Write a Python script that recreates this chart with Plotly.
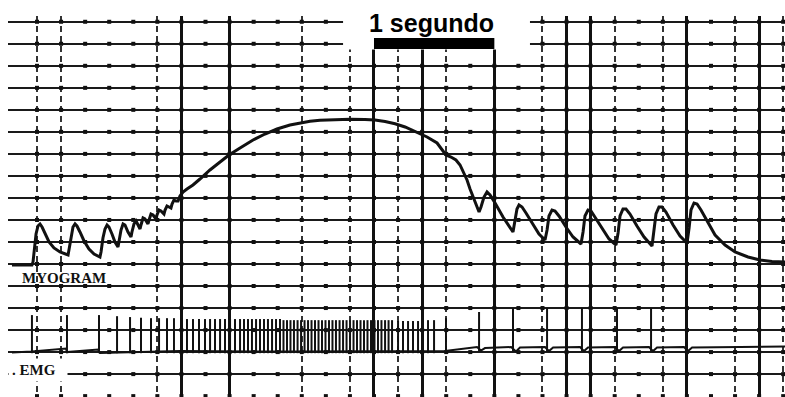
import plotly.graph_objects as go

# ---------------- data (time in seconds, amplitude in chart divisions) ----------------
# Myogram (muscle force) trace
MYO_T = [-0.208, -0.042, -0.033, -0.025, -0.008, 0.008, 0.025, 0.042, 0.066, 0.100, 0.141, 0.191, 0.258,
         0.266, 0.283, 0.299, 0.316, 0.332, 0.357, 0.391, 0.432, 0.474, 0.523,
         0.532, 0.548, 0.565, 0.582, 0.598, 0.623, 0.648, 0.673,
         0.681, 0.698, 0.715, 0.731, 0.756, 0.781,
         0.789, 0.806, 0.823, 0.839, 0.856,
         0.864, 0.881, 0.897, 0.922,
         0.931, 0.947, 0.964, 0.989,
         0.997, 1.014, 1.030, 1.055,
         1.064, 1.080, 1.097, 1.113,
         1.122, 1.138, 1.155, 1.172,
         1.188, 1.213, 1.246, 1.296, 1.354, 1.437, 1.521, 1.595, 1.687, 1.795, 1.894, 1.994, 2.102,
         2.185, 2.268, 2.351, 2.476, 2.601, 2.725, 2.808, 2.892, 2.975, 3.058, 3.157, 3.241, 3.324,
         3.365, 3.398, 3.440, 3.481, 3.515, 3.548, 3.573, 3.598, 3.623, 3.648, 3.673,
         3.689, 3.714, 3.739, 3.764, 3.806, 3.872, 3.955,
         3.972, 3.988, 4.005, 4.030, 4.063, 4.121, 4.171, 4.221,
         4.238, 4.254, 4.279, 4.304, 4.337, 4.395, 4.454, 4.520,
         4.537, 4.553, 4.578, 4.603, 4.636, 4.695, 4.753, 4.811,
         4.828, 4.844, 4.869, 4.894, 4.927, 4.985, 5.044, 5.110,
         5.127, 5.143, 5.168, 5.193, 5.226, 5.285, 5.343, 5.401,
         5.418, 5.434, 5.459, 5.484, 5.517, 5.575, 5.634, 5.717, 5.800, 5.908, 6.007, 6.107, 6.215]
MYO_V = [-0.045, -0.045, 0.091, 0.636, 1.362, 1.726, 1.817, 1.680, 1.362, 0.999, 0.727, 0.545, 0.409,
         0.636, 1.272, 1.680, 1.817, 1.726, 1.453, 1.045, 0.681, 0.454, 0.318,
         0.545, 1.181, 1.589, 1.771, 1.680, 1.362, 0.999, 0.772,
         0.999, 1.544, 1.817, 1.771, 1.453, 1.226,
         1.453, 1.817, 1.953, 1.771, 1.589,
         1.771, 2.089, 2.044, 1.817,
         1.998, 2.271, 2.225, 2.044,
         2.225, 2.452, 2.407, 2.271,
         2.452, 2.634, 2.589, 2.543,
         2.725, 2.906, 2.861, 2.861,
         3.088, 3.270, 3.406, 3.588, 3.860, 4.269, 4.632, 4.950, 5.268, 5.631, 5.904, 6.131, 6.312,
         6.403, 6.480, 6.530, 6.567, 6.576, 6.562, 6.540, 6.471, 6.367, 6.222, 5.995, 5.767, 5.495,
         5.222, 4.950, 4.859, 4.723, 4.496, 4.133, 3.815, 3.406, 3.043, 2.679, 2.361,
         2.589, 3.043, 3.270, 3.133, 2.770, 2.134, 1.453,
         1.998, 2.498, 2.679, 2.589, 2.316, 1.771, 1.362, 1.090,
         1.544, 2.180, 2.452, 2.407, 2.180, 1.680, 1.226, 0.908,
         1.453, 2.180, 2.452, 2.407, 2.134, 1.589, 1.135, 0.863,
         1.408, 2.180, 2.498, 2.498, 2.271, 1.726, 1.226, 0.817,
         1.453, 2.271, 2.589, 2.589, 2.361, 1.771, 1.272, 0.954,
         1.635, 2.452, 2.770, 2.725, 2.452, 1.907, 1.317, 0.863, 0.545, 0.318, 0.182, 0.114, 0.091]

# EMG channel: baseline drift (with brief undershoot after each late potential)
EMG_BASE_T = [-0.208, -0.042, 0.241, 0.249, 0.507, 0.523, 1.188, 2.185, 3.390, 3.423, 3.656,
              3.689, 3.722, 3.939,
              3.980, 4.013, 4.221,
              4.254, 4.288, 4.512,
              4.545, 4.578, 4.803,
              4.836, 4.869, 5.085,
              5.118, 5.152, 5.376,
              5.409, 5.443, 6.215]
EMG_BASE_V = [-0.023, 0.023, 0.159, 0.000, 0.114, -0.045, 0.045, 0.023, 0.045, 0.068, 0.227,
              0.068, 0.182, 0.227,
              0.023, 0.204, 0.227,
              0.045, 0.204, 0.227,
              0.045, 0.204, 0.227,
              0.045, 0.204, 0.227,
              0.045, 0.204, 0.227,
              0.045, 0.204, 0.250]

# EMG action potentials during the stimulation burst
BURST_SPIKE_T = [-0.042, 0.249, 0.515, 0.665, 0.773, 0.864, 0.947, 1.014, 1.080, 1.138, 1.197,
                 1.246, 1.296, 1.346, 1.396, 1.438, 1.479, 1.521, 1.562, 1.604, 1.645, 1.687,
                 1.720, 1.753, 1.786, 1.820, 1.853, 1.886, 1.919, 1.953, 1.986, 2.019,
                 2.048, 2.077, 2.106, 2.135, 2.165, 2.194, 2.223, 2.252, 2.281, 2.310, 2.339,
                 2.368, 2.397, 2.426, 2.455, 2.484, 2.514, 2.543, 2.572, 2.601, 2.630, 2.659,
                 2.688, 2.717, 2.746, 2.775, 2.804, 2.833, 2.862, 2.892, 2.921, 2.950,
                 3.000, 3.041, 3.083, 3.124, 3.166, 3.207, 3.249, 3.299, 3.398]
BURST_SPIKE_A = [1.68, 1.68, 1.68, 1.63, 1.59, 1.56, 1.54, 1.54, 1.54, 1.54, 1.54,
                 1.50, 1.50, 1.50, 1.50, 1.50, 1.50, 1.50, 1.50, 1.50, 1.50, 1.50,
                 1.50, 1.50, 1.50, 1.50, 1.50, 1.50, 1.50, 1.50, 1.50, 1.50,
                 1.45, 1.45, 1.45, 1.45, 1.45, 1.45, 1.45, 1.45, 1.45, 1.45, 1.45,
                 1.45, 1.45, 1.45, 1.45, 1.45, 1.45, 1.45, 1.45, 1.45, 1.45, 1.45,
                 1.45, 1.45, 1.45, 1.45, 1.45, 1.45, 1.45, 1.45, 1.45, 1.45,
                 1.41, 1.41, 1.41, 1.41, 1.41, 1.41, 1.45, 1.45, 1.54]
BURST_FLOOR = -0.05
# EMG action potentials after the burst
LATE_SPIKE_T = [3.673, 3.955, 4.238, 4.528, 4.819, 5.102, 5.393]
LATE_SPIKE_A = [1.82, 2.00, 2.00, 2.00, 2.00, 2.00, 2.00]
LATE_FLOOR = 0.03

EMG_OFFSET_DIV = 4          # EMG channel sits 4 divisions below myogram baseline

# chart paper grid (0.2 s per vertical division)
GRID_STEP_T = 0.2
N_VLINES = 32
GRID_HEAVY_T = [1.2, 1.6, 2.8, 3.2, 3.8, 4.4, 4.6, 5.4, 6.0]
GRID_DOTTED_T = [0.0, 0.2, 1.0, 2.2, 2.6, 3.0, 3.4, 4.2, 4.8, 5.2, 5.8, 6.2]
H_LINES = list(range(-6, 12))

SCALE_BAR_START = 2.8
SCALE_BAR_LEN = 1.0
SCALE_LABEL = "1 segundo"
LABEL_MYO = "MYOGRAM"
LABEL_EMG = ". EMG"

X_RANGE = [-0.241, 6.215]
Y_RANGE = [-6.04, 11.262]

INK = "#111111"
LABEL_FONT = "Liberation Serif, Times New Roman, serif"

fig = go.Figure()

# grid intersection marks
gx, gy = [], []
for j in H_LINES:
    for k in range(N_VLINES):
        gx.append(round(GRID_STEP_T * k, 3))
        gy.append(j)
fig.add_trace(go.Scatter(x=gx, y=gy, mode="markers",
                         marker=dict(symbol="square", size=4, color=INK),
                         hoverinfo="skip", showlegend=False))

# EMG baseline
fig.add_trace(go.Scatter(x=EMG_BASE_T, y=EMG_BASE_V, mode="lines", yaxis="y2",
                         line=dict(color=INK, width=2), showlegend=False))
# EMG spikes
bx, by = [], []
for t, a in zip(BURST_SPIKE_T, BURST_SPIKE_A):
    bx += [t, t, None]
    by += [BURST_FLOOR, a, None]
fig.add_trace(go.Scatter(x=bx, y=by, mode="lines", yaxis="y2",
                         line=dict(color=INK, width=2), showlegend=False))
lx, ly = [], []
for t, a in zip(LATE_SPIKE_T, LATE_SPIKE_A):
    lx += [t, t, None]
    ly += [LATE_FLOOR, a, None]
fig.add_trace(go.Scatter(x=lx, y=ly, mode="lines", yaxis="y2",
                         line=dict(color=INK, width=2), showlegend=False))

# Myogram
fig.add_trace(go.Scatter(x=MYO_T, y=MYO_V, mode="lines",
                         line=dict(color=INK, width=3), showlegend=False))

# white patch behind scale label and the 1 s scale bar
fig.add_shape(type="rect", xref="x", yref="y", x0=2.543, x1=4.096, y0=9.74, y1=12,
              fillcolor="white", line=dict(width=0), layer="above")
fig.add_shape(type="rect", xref="x", yref="y", x0=SCALE_BAR_START,
              x1=SCALE_BAR_START + SCALE_BAR_LEN, y0=9.764, y1=10.263,
              fillcolor="black", line=dict(width=0), layer="above")

fig.add_annotation(x=3.274, y=10.967, xref="x", yref="y", text="<b>" + SCALE_LABEL + "</b>",
                   showarrow=False, xanchor="center", yanchor="middle",
                   font=dict(family="Liberation Sans, Arial, sans-serif", size=25, color="black"))
fig.add_annotation(x=-0.138, y=-0.636, xref="x", yref="y", text="<b>" + LABEL_MYO + "</b>",
                   showarrow=False, xanchor="left", yanchor="middle",
                   font=dict(family=LABEL_FONT, size=15, color=INK))
fig.add_annotation(x=-0.241, y=-4.814, xref="x", yref="y", text="<b>" + LABEL_EMG + "</b>",
                   showarrow=False, xanchor="left", yanchor="middle", width=52, align="left",
                   bgcolor="white", borderpad=3,
                   font=dict(family=LABEL_FONT, size=15, color=INK))

fig.update_layout(
    width=785, height=397,
    margin=dict(l=8, r=0, t=16, b=0),
    paper_bgcolor="white", plot_bgcolor="white",
    showlegend=False,
    xaxis=dict(range=X_RANGE, showticklabels=False, ticks="", zeroline=False, showline=False,
               tickmode="array", tickvals=GRID_HEAVY_T, showgrid=True,
               gridcolor=INK, gridwidth=2.5,
               minor=dict(tickmode="array", tickvals=GRID_DOTTED_T, showgrid=True,
                          gridcolor="#333333", gridwidth=1.5, griddash="6px,4px")),
    yaxis=dict(range=Y_RANGE, showticklabels=False, ticks="", zeroline=False, showline=False,
               tickmode="array", tickvals=H_LINES, showgrid=True, gridcolor="#1a1a1a", gridwidth=2),
    yaxis2=dict(range=[Y_RANGE[0] + EMG_OFFSET_DIV, Y_RANGE[1] + EMG_OFFSET_DIV], overlaying="y",
                showticklabels=False, ticks="", zeroline=False, showline=False, showgrid=False),
)

fig.write_html("out.html")
